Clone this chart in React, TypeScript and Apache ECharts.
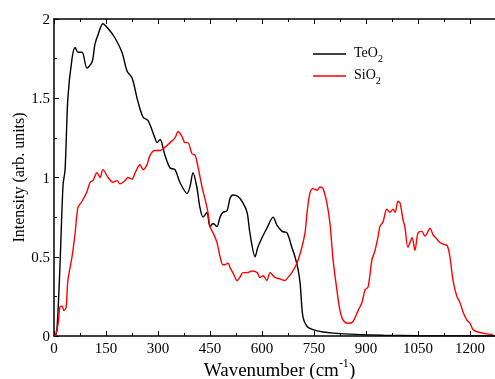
import React, { useEffect, useRef } from "react";
import * as echarts from "echarts";

const teo2X = [0, 3, 9, 17, 26, 32, 40, 52, 61, 69, 81, 95, 110, 118, 127, 141, 156, 176, 196, 211, 225, 242, 257, 271, 291, 297, 306, 320, 335, 349, 363, 384, 392, 401, 412, 421, 430, 441, 450, 459, 470, 479, 487, 499, 508, 516, 531, 545, 557, 565, 580, 588, 600, 614, 632, 643, 658, 672, 686, 695, 704, 710, 718, 730, 747, 776, 805, 870, 950, 1050, 1272];
const teo2Y = [0, 0, 0.06, 0.43, 0.95, 1.05, 1.5, 1.75, 1.82, 1.79, 1.79, 1.69, 1.73, 1.84, 1.9, 1.97, 1.94, 1.88, 1.79, 1.67, 1.63, 1.48, 1.38, 1.36, 1.25, 1.22, 1.24, 1.14, 1.06, 1.05, 0.97, 0.9, 0.94, 1.03, 0.94, 0.81, 0.75, 0.78, 0.69, 0.71, 0.69, 0.75, 0.78, 0.79, 0.87, 0.89, 0.88, 0.84, 0.78, 0.65, 0.5, 0.56, 0.62, 0.68, 0.75, 0.7, 0.66, 0.65, 0.56, 0.5, 0.42, 0.33, 0.12, 0.06, 0.04, 0.025, 0.018, 0.01, 0.005, 0.002, 0];

const sio2X = [0, 3, 12, 17, 23, 29, 35, 40, 52, 61, 69, 81, 95, 104, 112, 124, 133, 141, 156, 170, 182, 190, 205, 213, 225, 234, 248, 257, 268, 277, 291, 306, 320, 335, 349, 358, 369, 378, 386, 398, 407, 415, 427, 436, 444, 450, 459, 470, 479, 487, 493, 502, 508, 516, 528, 536, 545, 557, 571, 586, 594, 603, 614, 623, 637, 652, 666, 675, 686, 701, 715, 724, 730, 738, 747, 759, 767, 776, 787, 796, 805, 816, 825, 834, 848, 862, 877, 888, 897, 906, 917, 926, 935, 940, 949, 960, 969, 978, 984, 992, 998, 1007, 1012, 1021, 1033, 1041, 1050, 1061, 1070, 1085, 1093, 1105, 1113, 1122, 1134, 1142, 1151, 1162, 1171, 1180, 1191, 1200, 1209, 1223, 1243, 1266];
const sio2Y = [0, 0, 0.08, 0.18, 0.19, 0.16, 0.18, 0.35, 0.5, 0.65, 0.81, 0.85, 0.91, 0.97, 0.98, 1.03, 1.0, 1.05, 1.0, 0.97, 0.98, 0.96, 0.98, 1.0, 0.99, 1.03, 1.08, 1.05, 1.08, 1.14, 1.17, 1.17, 1.19, 1.22, 1.25, 1.29, 1.26, 1.22, 1.22, 1.15, 1.14, 1.07, 0.94, 0.86, 0.78, 0.69, 0.65, 0.59, 0.5, 0.45, 0.45, 0.46, 0.43, 0.4, 0.35, 0.37, 0.4, 0.4, 0.41, 0.4, 0.37, 0.38, 0.35, 0.4, 0.37, 0.36, 0.35, 0.37, 0.4, 0.46, 0.56, 0.65, 0.78, 0.9, 0.93, 0.92, 0.94, 0.93, 0.84, 0.71, 0.48, 0.29, 0.16, 0.1, 0.08, 0.09, 0.16, 0.21, 0.29, 0.31, 0.48, 0.54, 0.63, 0.69, 0.72, 0.8, 0.78, 0.8, 0.78, 0.85, 0.84, 0.73, 0.69, 0.56, 0.62, 0.54, 0.65, 0.66, 0.63, 0.68, 0.64, 0.61, 0.59, 0.58, 0.57, 0.5, 0.35, 0.25, 0.21, 0.15, 0.1, 0.08, 0.04, 0.025, 0.015, 0.01];

const xTicks = [0, 150, 300, 450, 600, 750, 900, 1050, 1200];
const seriesNames = ["TeO2", "SiO2"];

const FONT = "Liberation Serif";

export default function App() {
  const ref = useRef<HTMLDivElement>(null);
  useEffect(() => {
    if (!ref.current) return;
    const chart = echarts.init(ref.current, undefined, { renderer: "svg" });
    const pair = (xs: number[], ys: number[]) => xs.map((x, i) => [x, ys[i]]);
    const xMax = 1272;
    const axisCommon = {
      type: "value" as const,
      min: 0,
      max: xMax,
      interval: 150,
      axisLine: { show: true, lineStyle: { color: "#000", width: 1.5 } },
      axisTick: { show: true, inside: true, length: 5, lineStyle: { color: "#000", width: 1 } },
      minorTick: { show: true, splitNumber: 2, length: 3, lineStyle: { color: "#000", width: 1 } },
      splitLine: { show: false },
    };
    chart.setOption({
      animation: false,
      grid: { left: 54, right: 0, top: 19, bottom: 43 },
      xAxis: [
        {
          ...axisCommon,
          position: "bottom",
          axisLabel: {
            showMaxLabel: false,
            color: "#000",
            fontFamily: FONT,
            fontSize: 15,
            margin: 4,
            formatter: (v: number) => (xTicks.includes(v) ? String(v) : ""),
          },
        },
        {
          ...axisCommon,
          position: "top",
          axisLabel: { show: false },
        },
      ],
      yAxis: {
        type: "value",
        min: 0,
        max: 2,
        interval: 0.5,
        axisLine: { show: true, lineStyle: { color: "#000", width: 1.5 } },
        axisTick: { show: true, inside: true, length: 5, lineStyle: { color: "#000", width: 1 } },
        minorTick: { show: true, splitNumber: 2, length: 3, lineStyle: { color: "#000", width: 1 } },
        splitLine: { show: false },
        axisLabel: { color: "#000", fontFamily: FONT, fontSize: 15, margin: 4 },
      },
      series: [
        {
          name: seriesNames[0],
          type: "line",
          data: pair(teo2X, teo2Y),
          showSymbol: false,
          smooth: 0.3,
          lineStyle: { color: "#000", width: 1.4 },
          itemStyle: { color: "#000" },
        },
        {
          name: seriesNames[1],
          type: "line",
          data: pair(sio2X, sio2Y),
          showSymbol: false,
          smooth: 0.3,
          lineStyle: { color: "#ff0000", width: 1.4 },
          itemStyle: { color: "#ff0000" },
        },
      ],
      graphic: [
        { type: "line", shape: { x1: 313, y1: 54, x2: 346, y2: 54 }, style: { stroke: "#000", lineWidth: 1.5 } },
        { type: "line", shape: { x1: 313, y1: 76, x2: 346, y2: 76 }, style: { stroke: "#ff0000", lineWidth: 1.5 } },
        {
          type: "text",
          x: 354,
          y: 52.5,
          style: {
            text: "TeO{sub|2}",
            fontFamily: FONT,
            fontSize: 14,
            fill: "#000",
            verticalAlign: "middle",
            rich: { sub: { fontSize: 10, fontFamily: FONT, fill: "#000", padding: [11, 0, 0, 0] } },
          },
        },
        {
          type: "text",
          x: 354,
          y: 74.5,
          style: {
            text: "SiO{sub|2}",
            fontFamily: FONT,
            fontSize: 14,
            fill: "#000",
            verticalAlign: "middle",
            rich: { sub: { fontSize: 10, fontFamily: FONT, fill: "#000", padding: [11, 0, 0, 0] } },
          },
        },
        {
          type: "text",
          x: 279.5,
          y: 369,
          style: {
            text: "Wavenumber (cm{sup|-1})",
            fontFamily: FONT,
            fontSize: 19,
            fill: "#000",
            align: "center",
            verticalAlign: "middle",
            rich: { sup: { fontSize: 12, fontFamily: FONT, fill: "#000", padding: [0, 0, 13, 0] } },
          },
        },
        {
          type: "text",
          x: 18,
          y: 177.5,
          rotation: Math.PI / 2,
          style: {
            text: "Intensity (arb. units)",
            fontFamily: FONT,
            fontSize: 16,
            fill: "#000",
            align: "center",
            verticalAlign: "middle",
          },
        },
      ],
    });
    return () => chart.dispose();
  }, []);
  return <div ref={ref} style={{ position: "fixed", left: 0, top: 0, width: 495, height: 379 }} />;
}
